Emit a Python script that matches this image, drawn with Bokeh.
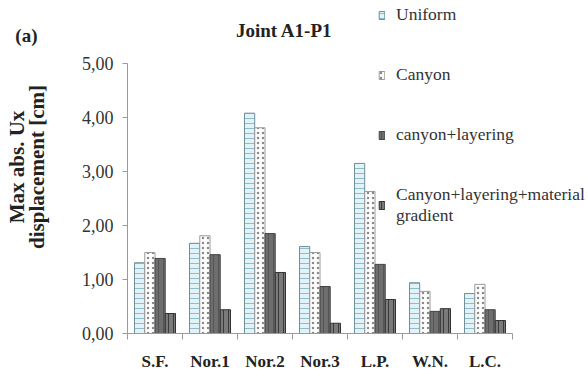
from bokeh.plotting import figure
from bokeh.models import (ColumnDataSource, FixedTicker, Legend, LegendItem, Label, Range1d, LinearAxis)
from bokeh.transform import dodge
from bokeh.embed import file_html
from bokeh.resources import INLINE

categories = ["S.F.", "Nor.1", "Nor.2", "Nor.3", "L.P.", "W.N.", "L.C."]
uniform = [1.31, 1.67, 4.08, 1.61, 3.15, 0.94, 0.74]
canyon = [1.50, 1.81, 3.81, 1.50, 2.63, 0.78, 0.91]
layering = [1.39, 1.46, 1.85, 0.87, 1.28, 0.41, 0.44]
gradient = [0.37, 0.44, 1.13, 0.19, 0.63, 0.46, 0.24]
series_names = ["Uniform", "Canyon", "canyon+layering", "Canyon+layering+material\ngradient"]
y_ticks = [0, 1, 2, 3, 4, 5]
y_tick_labels = ["0,00", "1,00", "2,00", "3,00", "4,00", "5,00"]

SERIF = "Liberation Serif"
n = len(categories)

src = ColumnDataSource(dict(
    xc=[i + 0.5 for i in range(n)],
    uniform=uniform, canyon=canyon, layering=layering, gradient=gradient))

# frame extends to the right and top edges so that title/legend are not clipped
p = figure(width=588, height=380, output_backend="svg", toolbar_location=None,
           x_range=Range1d(0, n * 461 / 385), y_range=Range1d(0, 5 * 333 / 270),
           min_border_left=127, min_border_right=0, min_border_top=0, min_border_bottom=47)
p.outline_line_color = None
p.grid.visible = False
p.background_fill_color = "white"
p.border_fill_color = "white"

w = 0.186
styles = [
    dict(col="uniform", off=-0.28, fill="#e2f2f6", hatch="-", hcol="#8fbccb", line="#6f8f99"),
    dict(col="canyon", off=-0.093, fill="#ffffff", hatch=".", hcol="#8a8a8a", line="#9a9a9a"),
    dict(col="layering", off=0.093, fill="#6e6e6e", hatch="|", hcol="#555555", line="#444444"),
    dict(col="gradient", off=0.28, fill="#7a7a7a", hatch="|", hcol="#3a3a3a", line="#333333"),
]
renderers = []
for s in styles:
    r = p.vbar(x=dodge("xc", s["off"], range=p.x_range), top=s["col"], width=w, bottom=0,
               source=src, fill_color=s["fill"], line_color=s["line"], line_width=1,
               hatch_pattern=s["hatch"], hatch_color=s["hcol"], hatch_scale=5, hatch_weight=1)
    renderers.append(r)

# x axis: labels at centres, tick marks at category boundaries
xa = p.xaxis[0]
xa.bounds = (0, n)
xa.ticker = FixedTicker(ticks=[i + 0.5 for i in range(n)], minor_ticks=list(range(n + 1)))
xa.major_label_overrides = {i + 0.5: c for i, c in enumerate(categories)}
xa.major_tick_line_color = None
xa.minor_tick_line_color = "#9a9a9a"
xa.minor_tick_out = 6
xa.minor_tick_in = 0
xa.axis_line_color = "#9a9a9a"
xa.major_label_text_font = SERIF
xa.major_label_text_font_style = "bold"
xa.major_label_text_font_size = "17px"
xa.major_label_text_color = "#222222"
xa.major_label_standoff = 12

ya = p.yaxis[0]
ya.bounds = (0, 5)
ya.ticker = FixedTicker(ticks=y_ticks)
ya.major_label_overrides = {t: l for t, l in zip(y_ticks, y_tick_labels)}
ya.major_tick_out = 5
ya.major_tick_in = 0
ya.minor_tick_line_color = None
ya.axis_line_color = "#9a9a9a"
ya.major_tick_line_color = "#9a9a9a"
ya.major_label_text_font = SERIF
ya.major_label_text_font_size = "18px"
ya.major_label_text_color = "#333333"
ya.major_label_standoff = 9
ya.axis_label = "Max abs. Ux\ndisplacement [cm]"
ya.axis_label_text_font = SERIF
ya.axis_label_text_font_style = "bold"
ya.axis_label_text_font_size = "21px"
ya.axis_label_text_line_height = 0.85
ya.axis_label_text_color = "#222222"
ya.axis_label_standoff = 30

# outer (label-only) axis carrying the panel tag "(a)"
tag_axis = LinearAxis(ticker=FixedTicker(ticks=[]), axis_line_color=None,
                      major_tick_line_color=None, minor_tick_line_color=None,
                      axis_label="\n(a)", axis_label_orientation="horizontal",
                      axis_label_align="end", axis_label_standoff=-36,
                      axis_label_text_line_height=3.3,
                      axis_label_text_font=SERIF, axis_label_text_font_style="bold",
                      axis_label_text_font_size="19px", axis_label_text_color="#222222")
p.add_layout(tag_axis, "left")

p.add_layout(Label(x=2.85, y=5.61, text="Joint A1-P1", text_font=SERIF, text_font_style="bold",
                   text_font_size="19px", text_align="center", text_baseline="middle",
                   text_color="#222222"))

legend = Legend(items=[LegendItem(label=nm, renderers=[r]) for nm, r in zip(series_names, renderers)],
                location=(251, 107), orientation="vertical", spacing=39,
                glyph_width=7, glyph_height=10, label_standoff=11, label_height=20,
                padding=0, margin=0, border_line_color=None, background_fill_alpha=0,
                label_text_font=SERIF, label_text_font_size="17.5px", label_text_color="#333333")
p.add_layout(legend, "center")

open("out.html", "w").write(file_html(p, INLINE))
